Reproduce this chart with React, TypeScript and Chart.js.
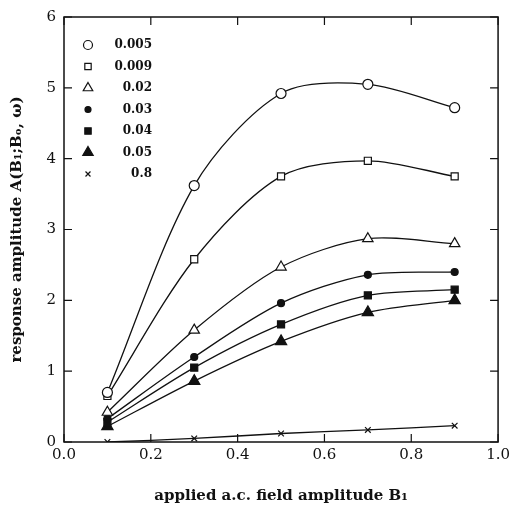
import React, { useEffect, useRef } from "react";
import { Chart, registerables } from "chart.js";
import { drawPoint } from "chart.js/helpers";

Chart.register(...registerables);

const fieldB1 = [0.1, 0.3, 0.5, 0.7, 0.9];
const seriesLabels = ["0.005", "0.009", "0.02", "0.03", "0.04", "0.05", "0.8"];
const s0005 = [0.7, 3.62, 4.92, 5.05, 4.72];
const s0009 = [0.65, 2.58, 3.75, 3.97, 3.75];
const s002 = [0.42, 1.58, 2.47, 2.87, 2.8];
const s003 = [0.33, 1.2, 1.96, 2.36, 2.4];
const s004 = [0.28, 1.05, 1.66, 2.07, 2.15];
const s005 = [0.22, 0.86, 1.42, 1.83, 2.0];
const s08 = [0.0, 0.05, 0.12, 0.17, 0.23];
const xTicks = [0, 0.2, 0.4, 0.6, 0.8, 1.0];
const yTicks = [0, 1, 2, 3, 4, 5, 6];

const seriesValues = [s0005, s0009, s002, s003, s004, s005, s08];
const styles = [
  { pointStyle: "circle", radius: 5, fill: false },
  { pointStyle: "rect", radius: 5, fill: false },
  { pointStyle: "triangle", radius: 6, fill: false },
  { pointStyle: "circle", radius: 3.5, fill: true },
  { pointStyle: "rect", radius: 5, fill: true },
  { pointStyle: "triangle", radius: 6.5, fill: true },
  { pointStyle: "crossRot", radius: 4, fill: false },
];

const SERIF = "'DejaVu Serif', 'Liberation Serif', serif";

const framePlugin = {
  id: "frame",
  afterDraw(chart: any) {
    const { ctx, chartArea: a, scales } = chart;
    ctx.save();
    ctx.strokeStyle = "#111";
    ctx.lineWidth = 1.5;
    ctx.strokeRect(a.left, a.top, a.right - a.left, a.bottom - a.top);
    ctx.lineWidth = 1.2;
    const tl = 8;
    xTicks.forEach((v) => {
      const x = scales.x.getPixelForValue(v);
      ctx.beginPath();
      ctx.moveTo(x, a.bottom);
      ctx.lineTo(x, a.bottom - tl);
      ctx.moveTo(x, a.top);
      ctx.lineTo(x, a.top + tl);
      ctx.stroke();
    });
    yTicks.forEach((v) => {
      const y = scales.y.getPixelForValue(v);
      ctx.beginPath();
      ctx.moveTo(a.left, y);
      ctx.lineTo(a.left + tl, y);
      ctx.moveTo(a.right, y);
      ctx.lineTo(a.right - tl, y);
      ctx.stroke();
    });
    // legend
    const sx = a.left + 24;
    const tx = a.left + 88;
    ctx.font = `bold 12px ${SERIF}`;
    ctx.textAlign = "right";
    ctx.textBaseline = "middle";
    ctx.fillStyle = "#111";
    seriesLabels.forEach((lab, i) => {
      const y = a.top + 28 + i * 21.5;
      const st = styles[i];
      ctx.save();
      ctx.strokeStyle = "#111";
      ctx.fillStyle = st.fill ? "#111" : "#fff";
      ctx.lineWidth = 1.2;
      drawPoint(ctx, { pointStyle: st.pointStyle, radius: st.radius - 0.5, borderWidth: 1.2, rotation: 0 } as any, sx, y);
      ctx.restore();
      ctx.fillText(lab, tx, y);
    });
    ctx.restore();
  },
};

export default function App() {
  const ref = useRef<HTMLCanvasElement>(null);
  useEffect(() => {
    document.body.style.margin = "0";
    const chart = new Chart(ref.current!, {
      type: "line",
      data: {
        datasets: seriesValues.map((vals, i) => ({
          label: seriesLabels[i],
          data: vals.map((v, j) => ({ x: fieldB1[j], y: v })),
          borderColor: "#111",
          borderWidth: 1.3,
          backgroundColor: styles[i].fill ? "#111" : "#fff",
          pointBorderColor: "#111",
          pointBorderWidth: 1.2,
          pointStyle: styles[i].pointStyle as any,
          pointRadius: styles[i].radius,
          tension: 0.3,
          fill: false,
        })),
      },
      options: {
        animation: false,
        responsive: false,
        layout: { padding: { top: 14, right: 11, left: 0, bottom: 0 } },
        plugins: { legend: { display: false }, tooltip: { enabled: false } },
        scales: {
          x: {
            type: "linear",
            min: 0,
            max: 1,
            afterFit: (s: any) => { s.height = 63; },
            afterBuildTicks: (s: any) => { s.ticks = xTicks.map((v) => ({ value: v })); },
            grid: { display: false, drawTicks: false },
            border: { display: false },
            ticks: {
              padding: 4,
              color: "#111",
              font: { family: SERIF, size: 15 },
              callback: (v: any) => Number(v).toFixed(1),
              maxRotation: 0,
            },
            title: {
              display: true,
              text: "applied a.c. field amplitude B₁",
              color: "#111",
              font: { family: SERIF, size: 15, weight: "bold" },
              padding: { top: 12, bottom: 0 },
            },
          },
          y: {
            type: "linear",
            min: 0,
            max: 6,
            afterFit: (s: any) => { s.width = 64; },
            afterBuildTicks: (s: any) => { s.ticks = yTicks.map((v) => ({ value: v })); },
            grid: { display: false, drawTicks: false },
            border: { display: false },
            ticks: {
              padding: 8,
              color: "#111",
              font: { family: SERIF, size: 15 },
            },
            title: {
              display: true,
              text: "response amplitude A(B₁;Bₒ, ω)",
              color: "#111",
              font: { family: SERIF, size: 15, weight: "bold" },
              padding: { top: 8, bottom: 4 },
            },
          },
        },
      },
      plugins: [framePlugin],
    });
    return () => chart.destroy();
  }, []);
  return (
    <div style={{ width: 514, height: 505, background: "#fff" }}>
      <canvas ref={ref} width={514} height={505} />
    </div>
  );
}
